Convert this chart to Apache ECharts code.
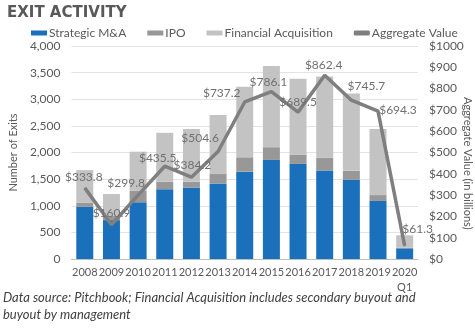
<!DOCTYPE html>
<html>
<head>
<meta charset="utf-8">
<script src="https://cdn.jsdelivr.net/npm/echarts@6/dist/echarts.min.js"></script>
<style>
  html, body { margin: 0; padding: 0; background: #ffffff; }
  #chart { width: 475px; height: 328px; }
</style>
</head>
<body>
<div id="chart"></div>
<script>
// Exit counts by type (stacked bars) and aggregate exit value (line, right axis)
const years = ['2008', '2009', '2010', '2011', '2012', '2013', '2014', '2015', '2016', '2017', '2018', '2019', '2020\nQ1'];
const strategicMA = [980, 730, 1065, 1310, 1345, 1420, 1640, 1860, 1785, 1660, 1485, 1090, 200];
const ipo = [80, 80, 220, 140, 105, 175, 270, 240, 175, 245, 170, 110, 10];
const financialAcquisition = [610, 410, 730, 920, 990, 1110, 1325, 1525, 1425, 1520, 1455, 1240, 235];
const aggregateValue = [333.8, 160.9, 299.8, 435.5, 384.2, 504.6, 737.2, 786.1, 689.5, 862.4, 745.7, 694.3, 61.3];

// Where each value label's centre sits relative to its point on the line
const labelShift = [[-1, -11], [0, -12], [-12, -12], [-7, -8], [1, -12], [-18, -13], [-23, -9], [-3, -9], [0, -10], [-1, -10], [15, -14], [20, -1], [13, -17]];

const FONT = 'Lato';
const TEXT = '#595959';

const chart = echarts.init(document.getElementById('chart'), null, { renderer: 'canvas' });

const barSeries = (name, data, color) => ({
  name, type: 'bar', stack: 'exits', data,
  barWidth: 17,
  itemStyle: { color },
  emphasis: { disabled: true }
});

chart.setOption({
  animation: false,
  textStyle: { fontFamily: FONT },
  title: {
    text: 'EXIT ACTIVITY',
    left: 2, top: 1,
    textStyle: { fontFamily: 'DejaVu Sans', fontSize: 15, fontWeight: 'bold', color: TEXT }
  },
  legend: {
    top: 22, left: 26, width: 449,
    itemWidth: 16, itemHeight: 5, itemGap: 21,
    textStyle: { fontFamily: FONT, fontSize: 12, color: TEXT, padding: [0, 0, 0, -3] },
    data: [
      { name: 'Strategic M&A', icon: 'rect' },
      { name: 'IPO', icon: 'rect' },
      { name: 'Financial Acquisition', icon: 'rect' },
      { name: 'Aggregate Value', icon: 'roundRect', itemStyle: { color: '#7f7f7f' } }
    ]
  },
  grid: { left: 59, right: 57, top: 46, bottom: 69, containLabel: false },
  xAxis: {
    type: 'category',
    data: years,
    axisLine: { lineStyle: { color: '#bfbfbf', width: 1 } },
    axisTick: { show: false },
    axisLabel: { color: TEXT, fontSize: 11, fontFamily: FONT, margin: 6, lineHeight: 15, interval: 0 }
  },
  yAxis: [
    {
      type: 'value', min: 0, max: 4000, interval: 500,
      name: 'Number of Exits', nameLocation: 'middle', nameGap: 45, nameRotate: 90,
      nameTextStyle: { color: TEXT, fontSize: 11, fontFamily: FONT },
      axisLabel: {
        color: TEXT, fontSize: 12, fontFamily: FONT, margin: 11,
        formatter: v => v.toLocaleString('en-US')
      },
      splitLine: { lineStyle: { color: '#e3e3e3', width: 1 } },
      axisLine: { show: false }, axisTick: { show: false }
    },
    {
      type: 'value', min: 0, max: 1000, interval: 100, position: 'right',
      axisLabel: {
        color: TEXT, fontSize: 12, fontFamily: FONT, margin: 11,
        formatter: v => '$' + v
      },
      splitLine: { show: false },
      axisLine: { show: false }, axisTick: { show: false }
    }
  ],
  graphic: [
    {
      type: 'text', left: 462, top: 97, rotation: -Math.PI / 2,
      style: { text: 'Aggregate Value (in billions)', fill: TEXT, font: '11px ' + FONT }
    },
    {
      type: 'text', left: 3, top: 289,
      style: {
        text: 'Data source: Pitchbook; Financial Acquisition includes secondary buyout and\nbuyout by management',
        fill: '#404040', font: 'italic 13px ' + FONT, lineHeight: 17
      }
    }
  ],
  series: [
    barSeries('Strategic M&A', strategicMA, '#1a70bb'),
    barSeries('IPO', ipo, '#989898'),
    barSeries('Financial Acquisition', financialAcquisition, '#c3c3c3'),
    {
      name: 'Aggregate Value', type: 'line', yAxisIndex: 1,
      data: aggregateValue.map((v, i) => ({
        value: v,
        label: { position: [labelShift[i][0] + 0.5, labelShift[i][1] + 0.5] }
      })),
      symbol: 'circle', symbolSize: 1, showSymbol: true,
      lineStyle: { color: '#7f7f7f', width: 3.5 },
      itemStyle: { color: '#7f7f7f' },
      label: {
        show: true, align: 'center', verticalAlign: 'middle',
        color: '#707070', fontSize: 12, fontFamily: FONT,
        formatter: p => '$' + p.value.toFixed(1)
      },
      labelLayout: { hideOverlap: false },
      emphasis: { disabled: true },
      z: 5
    }
  ]
});
</script>
</body>
</html>
